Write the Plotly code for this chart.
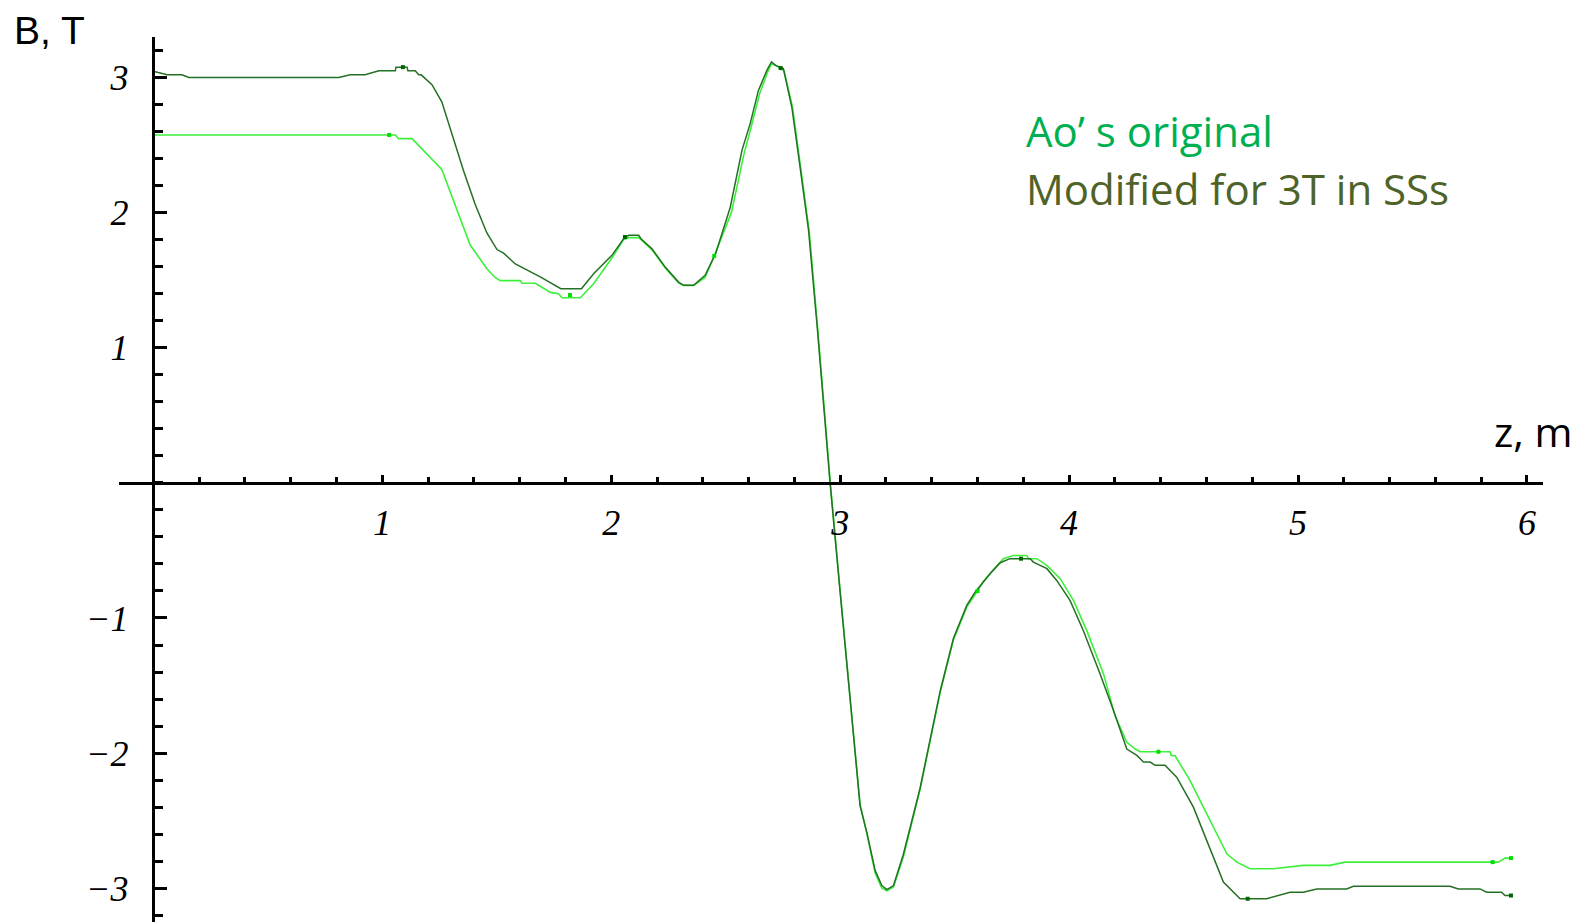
import plotly.graph_objects as go

# ---------------- data ----------------
z_mod = [0.0, 0.06, 0.125, 0.155, 0.81, 0.86, 0.925, 0.985, 1.057, 1.06, 1.108, 1.112, 1.144, 1.159, 1.17,
         1.217, 1.26, 1.304, 1.355, 1.406, 1.457, 1.501, 1.53, 1.581, 1.69, 1.78, 1.87, 1.923, 2.003, 2.054,
         2.076, 2.12, 2.13, 2.178, 2.236, 2.294, 2.316, 2.36, 2.41, 2.456, 2.52, 2.571, 2.607, 2.643, 2.68,
         2.70, 2.718, 2.752, 2.789, 2.825, 2.862, 2.90, 2.956, 3.0, 3.044, 3.087, 3.117, 3.153, 3.182, 3.204,
         3.233, 3.276, 3.349, 3.437, 3.495, 3.553, 3.59, 3.619, 3.655, 3.699, 3.742, 3.83, 3.844, 3.903, 3.946,
         4.004, 4.062, 4.135, 4.194, 4.252, 4.296, 4.325, 4.354, 4.376, 4.419, 4.47, 4.543, 4.601, 4.674, 4.747,
         4.863, 4.965, 5.023, 5.082, 5.212, 5.242, 5.664, 5.70, 5.795, 5.824, 5.889, 5.904, 5.933]
B_mod = [3.047, 3.02, 3.02, 3.0, 3.0, 3.02, 3.02, 3.05, 3.05, 3.077, 3.077, 3.05, 3.05, 3.02, 3.02,
         2.947, 2.82, 2.585, 2.31, 2.06, 1.85, 1.727, 1.70, 1.62, 1.525, 1.437, 1.437, 1.548, 1.684, 1.807,
         1.832, 1.832, 1.807, 1.733, 1.597, 1.486, 1.462, 1.462, 1.536, 1.696, 2.04, 2.461, 2.659, 2.905, 3.053,
         3.115, 3.09, 3.066, 2.78, 2.337, 1.87, 1.15, 0.0, -0.81, -1.61, -2.39, -2.59, -2.87, -2.98, -3.01,
         -2.98, -2.75, -2.26, -1.54, -1.15, -0.907, -0.808, -0.746, -0.672, -0.591, -0.561, -0.561, -0.586, -0.635, -0.722,
         -0.87, -1.092, -1.412, -1.684, -1.97, -2.017, -2.066, -2.066, -2.09, -2.09, -2.178, -2.40, -2.646, -2.955, -3.078,
         -3.078, -3.03, -3.03, -3.005, -3.005, -2.985, -2.985, -3.005, -3.005, -3.03, -3.03, -3.054, -3.054]

z_orig = [0.0, 1.057, 1.071, 1.13, 1.26, 1.311, 1.384, 1.457, 1.493, 1.515, 1.603, 1.61, 1.668, 1.697, 1.734,
          1.77, 1.785, 1.865, 1.923, 2.006, 2.054, 2.076, 2.12, 2.13, 2.178, 2.236, 2.294, 2.316, 2.36, 2.41,
          2.45, 2.525, 2.578, 2.612, 2.648, 2.683, 2.70, 2.72, 2.755, 2.792, 2.828, 2.865, 2.902, 2.957, 3.0,
          3.044, 3.087, 3.117, 3.153, 3.182, 3.204, 3.233, 3.276, 3.349, 3.437, 3.495, 3.553, 3.60, 3.625, 3.66,
          3.713, 3.757, 3.815, 3.822, 3.859, 3.903, 3.961, 4.019, 4.077, 4.15, 4.20, 4.252, 4.288, 4.31, 4.441,
          4.446, 4.463, 4.528, 4.616, 4.689, 4.733, 4.76, 4.79, 4.892, 5.023, 5.14, 5.205, 5.875, 5.904, 5.933]
B_orig = [2.575, 2.575, 2.5475, 2.5475, 2.32, 2.085, 1.76, 1.585, 1.52, 1.497, 1.497, 1.4775, 1.4775, 1.4475, 1.41,
          1.40, 1.37, 1.37, 1.474, 1.672, 1.80, 1.815, 1.815, 1.80, 1.725, 1.59, 1.48, 1.462, 1.462, 1.52,
          1.68, 2.0, 2.42, 2.64, 2.88, 3.04, 3.10, 3.09, 3.05, 2.78, 2.33, 1.86, 1.14, 0.0, -0.80,
          -1.60, -2.38, -2.60, -2.89, -3.0, -3.02, -2.99, -2.77, -2.27, -1.55, -1.16, -0.92, -0.80, -0.73, -0.66,
          -0.561, -0.537, -0.537, -0.561, -0.561, -0.611, -0.709, -0.87, -1.092, -1.412, -1.72, -1.92, -1.968, -1.99, -1.99,
          -2.017, -2.02, -2.202, -2.498, -2.745, -2.807, -2.831, -2.856, -2.856, -2.831, -2.831, -2.807, -2.807, -2.777, -2.777]

z_orig_pts = [1.03, 1.82, 2.45, 3.60, 4.39, 5.85, 5.93]
B_orig_pts = [2.575, 1.39, 1.68, -0.80, -1.99, -2.807, -2.777]
z_mod_pts = [1.09, 2.06, 2.74, 3.79, 4.78, 5.93]
B_mod_pts = [3.077, 1.82, 3.07, -0.561, -3.078, -3.054]

x_tickvals = [1, 2, 3, 4, 5, 6]
y_tickvals = [-3, -2, -1, 1, 2, 3]
minor_vals = [round(-3.2 + 0.2 * i, 1) for i in range(34)]
x_minor_vals = [round(0.2 * i, 1) for i in range(31)]

legend_labels = ["Ao\u2019 s original", "Modified for 3T in SSs"]
axis_titles = ["B, T", "z, m"]

# ---------------- figure ----------------
LIGHT = "#3cf03c"
DARK = "#247024"

OFF = 8  # page body margin
W, H = 1585 - OFF, 923 - OFF
ML, MR, MT, MB = 119 - OFF, 42, 37 - OFF, 1
XR = [-0.15, 6.07]
YR = [-3.25, 3.30]

fig = go.Figure()
fig.add_trace(go.Scatter(x=z_orig, y=B_orig, mode="lines", line=dict(color=LIGHT, width=1.6),
                         showlegend=False, hoverinfo="skip"))
fig.add_trace(go.Scatter(x=z_mod, y=B_mod, mode="lines", line=dict(color=DARK, width=1.5),
                         showlegend=False, hoverinfo="skip"))
fig.add_trace(go.Scatter(x=z_orig_pts, y=B_orig_pts, mode="markers",
                         marker=dict(symbol="square", size=4, color="#00dd00"),
                         showlegend=False, hoverinfo="skip"))
fig.add_trace(go.Scatter(x=z_mod_pts, y=B_mod_pts, mode="markers",
                         marker=dict(symbol="square", size=4, color="#006400"),
                         showlegend=False, hoverinfo="skip"))

xpos = (0 - YR[0]) / (YR[1] - YR[0])
ypos = (0 - XR[0]) / (XR[1] - XR[0])

tickfont = dict(family="Liberation Serif", size=36, color="black", style="italic")

fig.update_xaxes(range=XR, anchor="free", position=xpos, showgrid=False, zeroline=False,
                 showline=True, linecolor="black", linewidth=2.5,
                 tickmode="array", tickvals=x_tickvals, ticks="inside", ticklen=7, tickwidth=2.5,
                 tickcolor="black", tickfont=tickfont, ticklabelstandoff=7,
                 minor=dict(tickmode="array", tickvals=x_minor_vals, ticks="inside", ticklen=5,
                            tickwidth=2.5, tickcolor="black", showgrid=False))
fig.update_yaxes(range=YR, anchor="free", position=ypos, showgrid=False, zeroline=False,
                 showline=True, linecolor="black", linewidth=2.5,
                 tickmode="array", tickvals=y_tickvals, ticks="inside", ticklen=12, tickwidth=2.5,
                 tickcolor="black", tickfont=tickfont, ticklabelstandoff=17,
                 minor=dict(tickmode="array", tickvals=minor_vals, ticks="inside", ticklen=8,
                            tickwidth=2.5, tickcolor="black", showgrid=False))


def px_to_paper(px, py):
    fx, fy = px - OFF, py - OFF
    return (fx - ML) / (W - ML - MR), (H - MB - fy) / (H - MT - MB)


ann = []
x0, y0 = px_to_paper(12, 30)
ann.append(dict(text=axis_titles[0], x=x0, y=y0, xref="paper", yref="paper", xanchor="left",
                yanchor="middle", height=42, valign="middle", showarrow=False,
                font=dict(family="Liberation Sans", size=39, color="black")))
x1, y1 = px_to_paper(1492, 431)
ann.append(dict(text=axis_titles[1], x=x1, y=y1, xref="paper", yref="paper", xanchor="left",
                yanchor="middle", showarrow=False, font=dict(family="Open Sans", size=41, color="black")))
x2, y2 = px_to_paper(1024, 130)
ann.append(dict(text=legend_labels[0], x=x2, y=y2, xref="paper", yref="paper", xanchor="left",
                yanchor="middle", showarrow=False, font=dict(family="Open Sans", size=42, color="#00B050")))
x3, y3 = px_to_paper(1024, 188)
ann.append(dict(text=legend_labels[1], x=x3, y=y3, xref="paper", yref="paper", xanchor="left",
                yanchor="middle", showarrow=False, font=dict(family="Open Sans", size=42, color="#4F6228")))

fig.update_layout(width=W, height=H, margin=dict(l=ML, r=MR, t=MT, b=MB, pad=0),
                  paper_bgcolor="white", plot_bgcolor="white", annotations=ann, showlegend=False)

fig.write_html("out.html")
